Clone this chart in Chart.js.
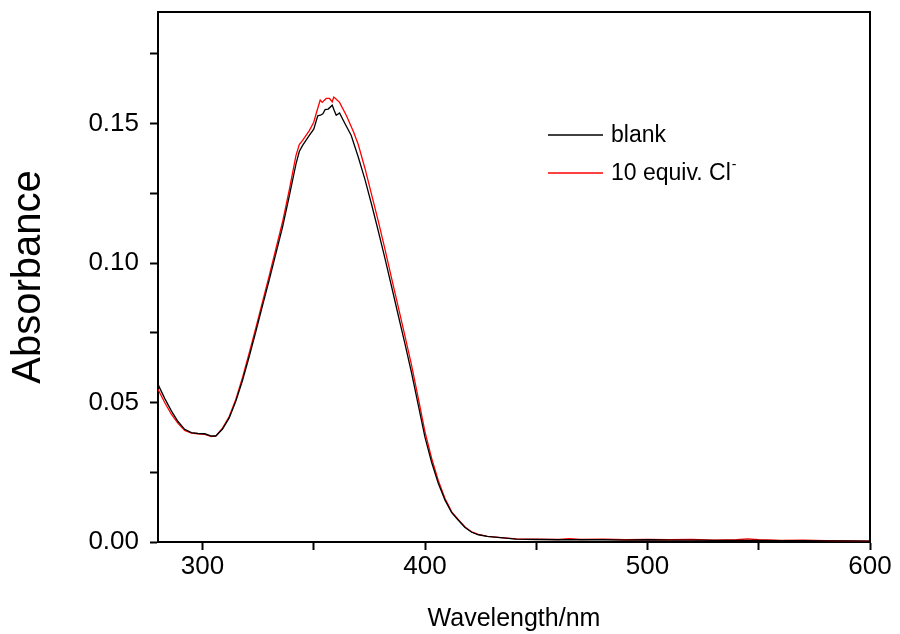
<!DOCTYPE html>
<html>
<head>
<meta charset="utf-8">
<script src="https://cdn.jsdelivr.net/npm/chart.js@4/dist/chart.umd.min.js"></script>
<style>
  html, body { margin: 0; padding: 0; background: #fff; }
  #wrap { width: 900px; height: 634px; }
</style>
</head>
<body>
<div id="wrap"><canvas id="spectrum" width="900" height="634"></canvas></div>
<script>
// values
const blankWl = [280, 283, 286, 289, 292, 295, 298, 301, 304, 306, 309, 312, 315, 318, 321, 324, 327, 330, 333, 336, 339, 342, 343.5, 345, 348, 350, 351.8, 353, 354.1, 355.1, 356.5, 358.3, 359.3, 360.1, 361.6, 364, 366.8, 370, 373, 376, 379, 382, 385, 388, 391, 394, 397, 400, 403, 406, 409, 412, 415, 418, 421, 424, 428, 434, 441, 450, 460, 470, 480, 490, 500, 510, 520, 530, 540, 550, 560, 570, 580, 590, 600];
const blankAbs = [0.0565, 0.0515, 0.0470, 0.0432, 0.0404, 0.0392, 0.0389, 0.0388, 0.0380, 0.0380, 0.0405, 0.0445, 0.0505, 0.0580, 0.0665, 0.0755, 0.0848, 0.0940, 0.1035, 0.1130, 0.1240, 0.1355, 0.1400, 0.1422, 0.1458, 0.1480, 0.1528, 0.1530, 0.1535, 0.1550, 0.1552, 0.1566, 0.1545, 0.1530, 0.1538, 0.1500, 0.1458, 0.1380, 0.1300, 0.1210, 0.1115, 0.1017, 0.0915, 0.0812, 0.0710, 0.0605, 0.0490, 0.0375, 0.0285, 0.0210, 0.0150, 0.0105, 0.0078, 0.0052, 0.0035, 0.0026, 0.0020, 0.0016, 0.0010, 0.0009, 0.0008, 0.0008, 0.0008, 0.0007, 0.0008, 0.0007, 0.0007, 0.0006, 0.0006, 0.0006, 0.0005, 0.0005, 0.0004, 0.0004, 0.0003];

const clWl = [280, 283, 286, 289, 292, 295, 298, 301, 304, 306, 309, 312, 315, 318, 321, 324, 327, 330, 333, 336, 339, 342, 343.5, 345, 348, 350, 351.1, 352.9, 353.8, 355.6, 357.1, 358.3, 359, 360, 361.6, 364.6, 367.9, 370, 373, 376, 379, 382, 385, 388, 391, 394, 397, 400, 403, 406, 409, 412, 415, 418, 421, 424, 428, 434, 441, 450, 460, 465, 470, 480, 490, 500, 510, 520, 530, 540, 545, 550, 560, 570, 580, 590, 600];
const clAbs = [0.0547, 0.0500, 0.0458, 0.0425, 0.0400, 0.0390, 0.0388, 0.0386, 0.0378, 0.0380, 0.0408, 0.0450, 0.0512, 0.0590, 0.0678, 0.0768, 0.0862, 0.0955, 0.1052, 0.1148, 0.1262, 0.1385, 0.1425, 0.1440, 0.1475, 0.1505, 0.1536, 0.1584, 0.1576, 0.1590, 0.1590, 0.1578, 0.1595, 0.1588, 0.1576, 0.1530, 0.1470, 0.1425, 0.1340, 0.1245, 0.1150, 0.1050, 0.0945, 0.0842, 0.0738, 0.0632, 0.0515, 0.0395, 0.0300, 0.0220, 0.0156, 0.0108, 0.0080, 0.0054, 0.0036, 0.0027, 0.0020, 0.0016, 0.0011, 0.0010, 0.0009, 0.0012, 0.0009, 0.0010, 0.0008, 0.0009, 0.0008, 0.0009, 0.0007, 0.0008, 0.0011, 0.0008, 0.0006, 0.0007, 0.0005, 0.0004, 0.0003];

const xTicks = [300, 350, 400, 450, 500, 550, 600];
const xLabels = [300, 400, 500, 600];
const yTicks = [0, 0.025, 0.05, 0.075, 0.1, 0.125, 0.15, 0.175];
const yLabels = [0, 0.05, 0.1, 0.15];

const seriesNames = ['blank', '10 equiv. Cl'];
const seriesColors = ['#000000', '#ff0000'];

const FONT = "Arial, 'Liberation Sans', sans-serif";

const toPoints = (xs, ys) => xs.map((x, i) => ({ x: x, y: ys[i] }));
const isIn = (v, list) => list.some(t => Math.abs(t - v) < 1e-9);

// box round the plot + legend
const framePlugin = {
  id: 'frame',
  afterDraw(chart) {
    const { ctx, chartArea: a } = chart;
    ctx.save();
    ctx.strokeStyle = '#000';
    ctx.lineWidth = 2;
    ctx.beginPath();
    ctx.moveTo(a.left, a.top);
    ctx.lineTo(a.right, a.top);
    ctx.lineTo(a.right, a.bottom);
    ctx.stroke();

    // legend
    const rows = [135, 173];
    ctx.textBaseline = 'middle';
    rows.forEach((y, i) => {
      ctx.beginPath();
      ctx.strokeStyle = seriesColors[i];
      ctx.lineWidth = 1.3;
      ctx.moveTo(548, y);
      ctx.lineTo(603, y);
      ctx.stroke();
      ctx.font = `23px ${FONT}`;
      ctx.fillStyle = '#000';
      ctx.fillText(seriesNames[i], 611, y + 1);
    });
    ctx.font = `23px ${FONT}`;
    const w = ctx.measureText(seriesNames[1]).width;
    ctx.font = `14px ${FONT}`;
    ctx.fillText('-', 611 + w + 1, rows[1] - 8);
    ctx.restore();
  }
};

new Chart(document.getElementById('spectrum'), {
  type: 'line',
  data: {
    datasets: [
      {
        label: seriesNames[0],
        data: toPoints(blankWl, blankAbs),
        borderColor: seriesColors[0],
        borderWidth: 1.3,
        pointRadius: 0,
        tension: 0
      },
      {
        label: seriesNames[1],
        data: toPoints(clWl, clAbs),
        borderColor: seriesColors[1],
        borderWidth: 1.3,
        pointRadius: 0,
        tension: 0
      }
    ]
  },
  options: {
    responsive: false,
    animation: false,
    layout: { padding: { top: 12, right: 30, left: 0, bottom: 0 } },
    plugins: {
      legend: { display: false },
      tooltip: { enabled: false }
    },
    scales: {
      x: {
        type: 'linear',
        min: 280,
        max: 600,
        afterBuildTicks: scale => { scale.ticks = xTicks.map(v => ({ value: v })); },
        afterFit: scale => {
          scale.height = 92;
          scale.paddingLeft = 0;
          scale.paddingRight = 0;
        },
        border: { display: true, color: '#000', width: 2 },
        grid: { drawOnChartArea: false, drawTicks: true, tickLength: 8, tickColor: '#000', tickWidth: 2 },
        ticks: {
          color: '#000',
          font: { family: FONT, size: 26 },
          padding: 1,
          maxRotation: 0,
          autoSkip: false,
          callback: v => isIn(v, xLabels) ? String(v) : ''
        },
        title: {
          display: true,
          text: 'Wavelength/nm',
          color: '#000',
          font: { family: FONT, size: 25 },
          padding: { top: 2, bottom: 0 }
        }
      },
      y: {
        min: 0,
        max: 0.19,
        afterBuildTicks: scale => { scale.ticks = yTicks.map(v => ({ value: v })); },
        afterFit: scale => {
          scale.width = 158;
          scale.paddingTop = 0;
          scale.paddingBottom = 0;
        },
        border: { display: true, color: '#000', width: 2 },
        grid: { drawOnChartArea: false, drawTicks: true, tickLength: 8, tickColor: '#000', tickWidth: 2 },
        ticks: {
          color: '#000',
          font: { family: FONT, size: 26 },
          padding: 11,
          autoSkip: false,
          callback: v => isIn(v, yLabels) ? v.toFixed(2) : ''
        },
        title: {
          display: true,
          text: 'Absorbance',
          color: '#000',
          font: { family: FONT, size: 40 },
          padding: { top: 5, bottom: 0 }
        }
      }
    }
  },
  plugins: [framePlugin]
});
</script>
</body>
</html>
